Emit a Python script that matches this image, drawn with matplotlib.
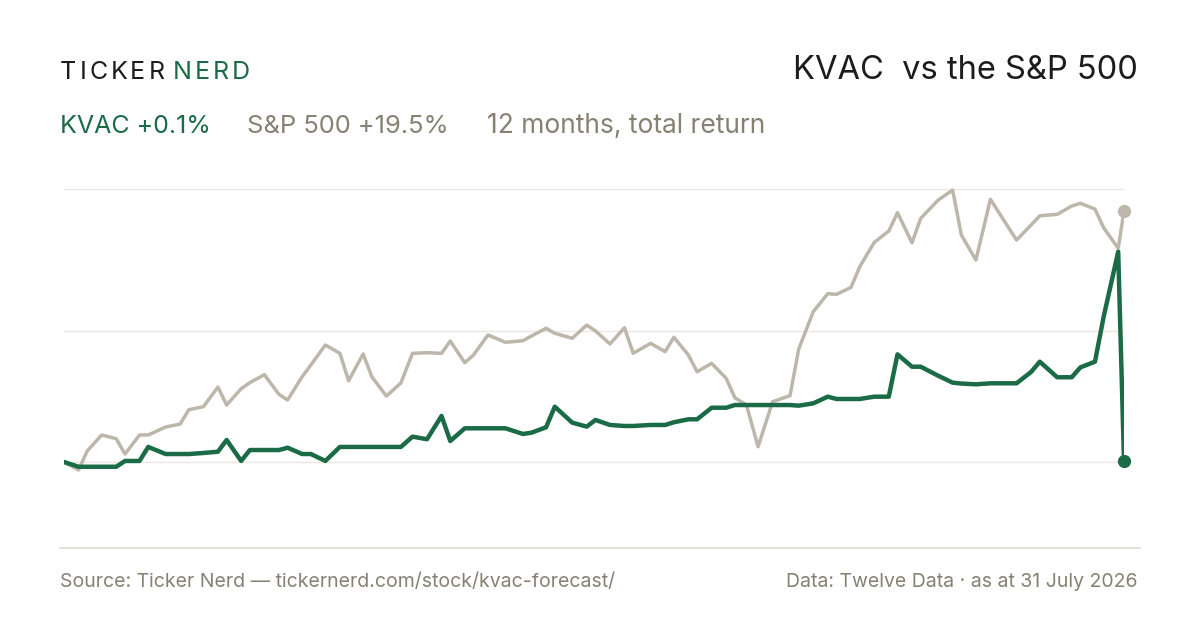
import matplotlib
matplotlib.use('Agg')
import matplotlib.pyplot as plt
from matplotlib.lines import Line2D

plt.rcParams['font.family'] = ['Inter', 'DejaVu Sans']

# days since start of the 12-month window
days = [0, 5, 8, 13, 18, 21, 26, 29, 35, 40, 43, 48, 53, 56, 61, 64, 69, 74, 77, 82,
        85, 90, 95, 98, 103, 106, 111, 116, 120, 125, 130, 133, 138, 141, 146, 152, 158, 161, 166, 169,
        175, 180, 183, 188, 193, 196, 202, 207, 210, 215, 218, 223, 228, 231, 235, 239, 244, 250, 253, 258,
        263, 266, 271, 274, 279, 284, 287, 292, 295, 301, 306, 309, 314, 319, 328, 333, 336, 342, 347, 350,
        355, 358, 363, 365]

# cumulative total return, %
spx = [0.0, -0.62, 0.86, 2.10, 1.81, 0.62, 2.10, 2.10, 2.72, 2.95, 4.07, 4.30, 5.83, 4.43, 5.70, 6.17, 6.79, 5.26, 4.82, 6.63,
       7.54, 9.10, 8.45, 6.32, 8.40, 6.63, 5.13, 6.14, 8.45, 8.50, 8.45, 9.41, 7.72, 8.32, 9.88, 9.31, 9.43, 9.80, 10.40, 10.01,
       9.62, 10.65, 10.19, 9.18, 10.44, 8.45, 9.23, 8.58, 9.70, 8.32, 7.02, 7.67, 6.51, 5.00, 4.43, 1.19, 4.69, 5.16, 8.79, 11.69,
       13.09, 13.04, 13.58, 15.19, 17.08, 17.96, 19.39, 17.05, 18.95, 20.37, 21.15, 17.65, 15.71, 20.43, 17.26, 18.43, 19.15, 19.26, 19.91, 20.12,
       19.67, 18.22, 16.62, 19.5]

kvac = [0.0, -0.37, -0.37, -0.37, -0.37, 0.08, 0.08, 1.17, 0.62, 0.62, 0.62, 0.70, 0.80, 1.71, 0.08, 0.93, 0.93, 0.93, 1.11, 0.62,
        0.62, 0.08, 1.17, 1.17, 1.17, 1.17, 1.17, 1.17, 1.97, 1.77, 3.58, 1.63, 2.62, 2.62, 2.62, 2.62, 2.18, 2.28, 2.70, 4.30,
        3.06, 2.75, 3.27, 2.88, 2.80, 2.80, 2.88, 2.88, 3.09, 3.32, 3.32, 4.22, 4.22, 4.43, 4.43, 4.43, 4.43, 4.43, 4.38, 4.56,
        5.08, 4.90, 4.90, 4.90, 5.08, 5.08, 8.37, 7.41, 7.41, 6.71, 6.17, 6.10, 6.04, 6.12, 6.12, 7.00, 7.80, 6.59, 6.59, 7.36,
        7.80, 11.30, 16.35, 0.1]

grid_levels = [0, 10.2, 21.2]

GREEN = '#1b6b47'
SAND = '#bdb7ab'
MUTED = '#878174'
INK = '#1c1c1c'

fig = plt.figure(figsize=(12, 6.3), dpi=100)
fig.patch.set_facecolor('white')
W, H = 1200, 630

ax = fig.add_axes([64 / W, 1 - 530 / H, 1060 / W, 360 / H])
ax.set_xlim(days[0], days[-1])
ax.set_ylim(-5.29, 22.71)
for g in grid_levels:
    ax.axhline(g, color='#ebe8e1', lw=1.0, zorder=1)
ax.plot(days, spx, color=SAND, lw=2.5, solid_joinstyle='round', zorder=2)
ax.plot(days, kvac, color=GREEN, lw=3.2, solid_joinstyle='round', zorder=3)
ax.plot(days[-1], spx[-1], 'o', color=SAND, ms=8.5, clip_on=False, zorder=4)
ax.plot(days[-1], kvac[-1], 'o', color=GREEN, ms=8.5, clip_on=False, zorder=4)
ax.axis('off')

fig.canvas.draw()
renderer = fig.canvas.get_renderer()


def spaced(x, y, s, color, size, tracking):
    # draw text one letter at a time to get the wide letter spacing
    for ch in s:
        t = fig.text(x / W, 1 - y / H, ch, color=color, fontsize=size, va='baseline')
        x += t.get_window_extent(renderer).width + tracking
    return x


x = spaced(60, 79, 'TICKER', INK, 18, 3.0)
spaced(x + 5, 79, 'NERD', GREEN, 18, 3.0)

fig.text(1138 / W, 1 - 79 / H, 'KVAC  vs the S&P 500', color=INK, fontsize=23.5,
         ha='right', va='baseline')

fig.text(60 / W, 1 - 133 / H, 'KVAC +0.1%', color=GREEN, fontsize=18, va='baseline')
fig.text(247 / W, 1 - 133 / H, 'S&P 500 +19.5%', color=MUTED, fontsize=18.4, va='baseline')
fig.text(487 / W, 1 - 133 / H, '12 months, total return', color=MUTED, fontsize=19, va='baseline')

fig.add_artist(Line2D([60 / W, 1140 / W], [1 - 548 / H, 1 - 548 / H], color='#dedad1', lw=1.2))

fig.text(60 / W, 1 - 587 / H, 'Source: Ticker Nerd \u2014 tickernerd.com/stock/kvac-forecast/',
         color=MUTED, fontsize=14, va='baseline')
fig.text(1138 / W, 1 - 587 / H, 'Data: Twelve Data \u00b7 as at 31 July 2026',
         color=MUTED, fontsize=14, ha='right', va='baseline')

fig.savefig('out.png', dpi=100, facecolor='white')
